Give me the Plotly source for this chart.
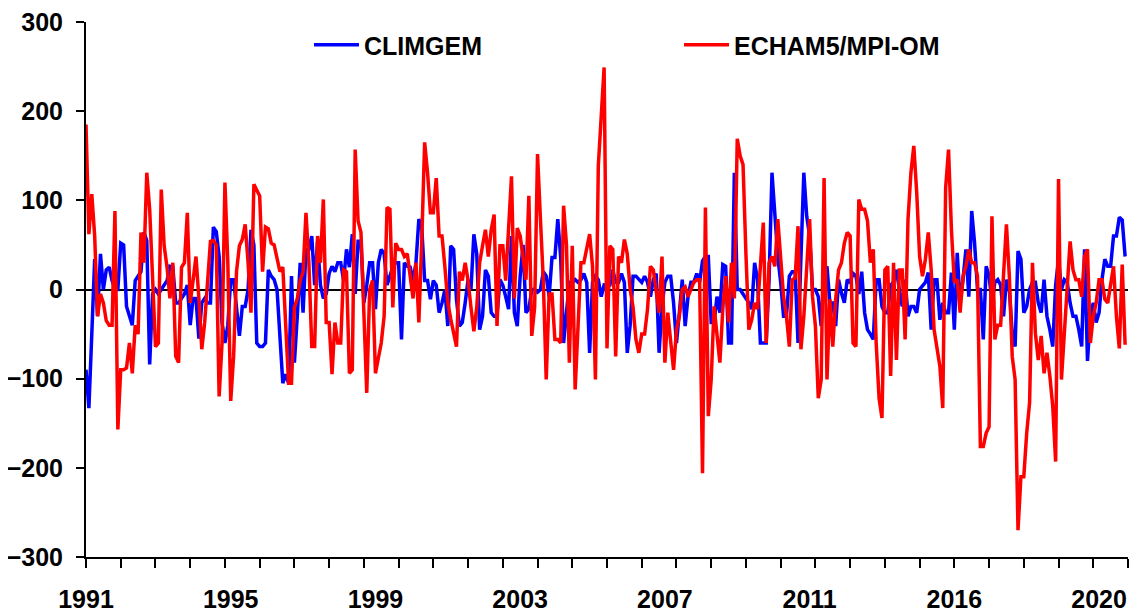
import plotly.graph_objects as go

# Monthly anomalies, Jan 1991 .. Dec 2020 (360 months)
climgem = [
    -90, -133, -50, 34, -30, 40, 0, 22, 25, 10, 0, 0, 52, 50, -19, -30, -40, 10, 15, 20,
    64, 55, -84, -5, 0, -5, 0, 5, 10, 26, 25, -15, -15, -10, -5, 5, -40, -10, -10, -55,
    -15, -10, -15, -15, 70,
    65, 37, -37, -60, -40, 11, 11, -26, -52, -19, -19, 0, 67, 50, -60, -64, -64, -60, 22, 15,
    11, 0, -60, -105, -95, -105, 15, -82, -30, 30, -26, 45, 45, 60, 5, 54, 5, -10, -5, 18,
    26, 20, 30,
    30, 10, 45, 25, 62, -5, 54, 54, -15, 5, 30, 30, -22, 30, 45, 40, 5, 15, 26, 30,
    30, -56, 30, 26, 25, 10, 30, 79, 70, 10, 10, -11, 10, 5, -26, -15, 0, -41, 49, 45,
    -11, -41, -37, -15, 11,
    0, 62, 40, -45, -30, 22, 15, -26, -30, -30, 11, 5, -8, -22, 60, -26, -41, 15, 50, -26,
    -22, 0, 0, -3, 0, 20, 15, -8, 36, 36, 79, 36, -60, -30, 8, 8, 11, 8, 11, 18,
    8, -71, 8, 15, 11,
    -8, 5, 4, 5, 22, 8, 8, 18, 8, -71, -40, 15, 15, 11, 8, 15, 8, -8, 11, 18,
    -71, -19, 8, 15, 15, -15, -60, -26, 11, -41, -8, 8, 8, 18, 8, 32, 37, 37, -37, -37,
    -8, -26, 28, 26, -60, -60, 131,
    0, 0, -5, -10, -15, -22, 30, 11, -60, -60, -60, 11, 131, 84, 37, 8, -30, -30, 15, 20,
    20, -60, 37, 131, 82, 60, 0, 0, -8, -41, 15, 26, -15, -15, -41, 11, -4, -15, 11, 8,
    18, 15, -5, 20,
    -26, -45, -50, -56, 11, 11, -19, -26, -26, 5, 8, 22, 0, -19, 11, -30, -19, -19, -26, 0,
    4, 8, 19, -45, 11, 11, -34, -15, -26, -26, 19, -45, 41, -15, 11, 45, -8, 88, 52, 0,
    0, -56, 26, 15,
    -15, 8, 11, 5, -30, 11, 0, -49, -64, 43, 34, -26, -19, 0, 8, 8, -15, -26, 11, -30,
    -45, -64, 5, 34, 0, 11, 8, -15, -30, -30, -45, -64, 45, -80, -30, -15, -37, -26, 11, 34,
    26, 26, 60, 60, 81, 78, 37,
]

echam = [
    185, 62, 107, 60, -30, -5, -15, -35, -40, -40, 88, -157, -90, -90, -88, -60, -94, -40, -50, 64,
    30, 131, 90, 10, -64, -60, 112, 49, 25, -10, 30, -75, -82, 25, 30, 86, -15, 10, 37, -10,
    -67, -37, 10, 54, 55,
    50, -120, -60, 120, 30, -125, -75, 20, 49, 56, 73, 30, -26, 118, 112, 105, 20, 70, 68, 52,
    50, 37, 20, 25, -50, -105, -105, -20, -10, 10, 20, 86, 30, -64, -64, 60, 30, 101, -37, -37,
    -95, -37, -60,
    -60, 22, 20, -94, -90, 157, 77, 64, -20, -116, 0, 10, -94, -75, -60, -30, 92, 90, -20, 52,
    45, 45, 37, 40, 11, -10, 30, -37, 55, 165, 131, 86, 86, 125, 60, 60, 25, -15, -33, -50,
    -64, 20, 10, 30, 10,
    -20, -47, -20, 30, 49, 67, 37, 67, 84, -41, 49, 49, 10, 75, 127, -10, 69, 60, 37, 11,
    105, -52, -20, 152, 79, 10, -101, -5, -5, -56, -56, -60, 94, 50, -82, 49, -112, -37, 30, 30,
    45, 62, 26, -101, 139,
    191, 249, -66, 49, 45, -75, 37, 30, 56, 40, 0, -20, -56, -71, -50, -50, -22, 26, 22, -5,
    -26, 37, -82, -26, -60, -90, -45, -30, 0, 3, -8, 0, 8, 11, 11, -206, 92, -142, -101, -19,
    -56, -82, -22, 15, -37, 30, -10,
    169, 150, 140, 40, -45, -34, -15, -22, 26, 75, -60, 30, 37, 26, 79, 41, -8, -30, -64, 11,
    13, 71, -67, -30, 26, 79, -8, -41, -122, -101, 125, -101, -11, -64, -11, 22, 30, 52, 64, 60,
    -60, -64, 101, 90,
    90, 77, 30, 45, -60, -122, -144, 22, 26, -97, 30, -79, 22, 22, -56, 79, 131, 161, 109, 37,
    15, 34, 64, 22, -45, -64, -86, -133, 114, 157, 67, 8, 11, -26, 15, 26, 45, 30, 30, 15,
    -176, -176, -161, -154,
    82, -56, -40, -40, 15, 73, 15, -75, -101, -270, -210, -210, -161, -127, 30, -49, -79, -52, -94, -71,
    -97, -131, -193, 124, -101, -52, 8, 54, 22, 11, 11, -8, 37, 45, -60, -30, -15, 11, 11, -11,
    -15, 8, 26, -30, -66, 28, -62,
]

months = list(range(len(echam)))

# Category-axis labels as shown (every 50 months)
label_pos = [0, 50, 100, 150, 200, 250, 300, 350]
label_text = ["1991", "1995", "1999", "2003", "2007", "2011", "2016", "2020"]
y_ticks = [-300, -200, -100, 0, 100, 200, 300]

FONT = "Liberation Sans, Arial, sans-serif"

fig = go.Figure()
fig.add_trace(go.Scatter(
    x=months, y=climgem, mode="lines", name="<b>CLIMGEM</b>",
    line=dict(color="#0000FF", width=3.5),
))
fig.add_trace(go.Scatter(
    x=months, y=echam, mode="lines", name="<b>ECHAM5/MPI-OM</b>",
    line=dict(color="#FF0000", width=3.5),
))

# the page body has an 8px margin, so the figure is sized to fit inside the window
fig.update_layout(
    width=1129, height=606,
    margin=dict(l=78, r=9, t=14, b=57, autoexpand=False),
    paper_bgcolor="white", plot_bgcolor="white",
    font=dict(family=FONT, color="black"),
    showlegend=True,
    legend=dict(
        orientation="h", x=0.214, xanchor="left", y=1.0, yanchor="top",
        font=dict(size=25, family=FONT, color="black"),
        itemwidth=45,
        entrywidth=310, entrywidthmode="pixels",
        bgcolor="rgba(0,0,0,0)", borderwidth=0,
    ),
    xaxis=dict(
        range=[0, 360], tickmode="array", tickvals=label_pos, ticktext=label_text,
        ticks="", showgrid=False, zeroline=False, automargin=False,
        showline=True, linecolor="black", linewidth=2,
        tickfont=dict(size=25, family=FONT, color="black", weight="bold"),
        ticklabelstandoff=19, ticklabeloverflow="allow",
        minor=dict(tickmode="linear", tick0=0, dtick=12, ticks="outside",
                   ticklen=9, tickwidth=1.5, tickcolor="black", showgrid=False),
    ),
    yaxis=dict(
        range=[-300, 300], tickmode="array", tickvals=y_ticks,
        ticks="outside", ticklen=8, tickwidth=1.5, tickcolor="black",
        showgrid=False, zeroline=True, zerolinecolor="black", zerolinewidth=2,
        showline=True, linecolor="black", linewidth=2, automargin=False,
        layer="above traces",
        tickfont=dict(size=25, family=FONT, color="black", weight="bold"),
        ticklabelstandoff=8, ticklabeloverflow="allow",
    ),
)

fig.write_html("out.html")
